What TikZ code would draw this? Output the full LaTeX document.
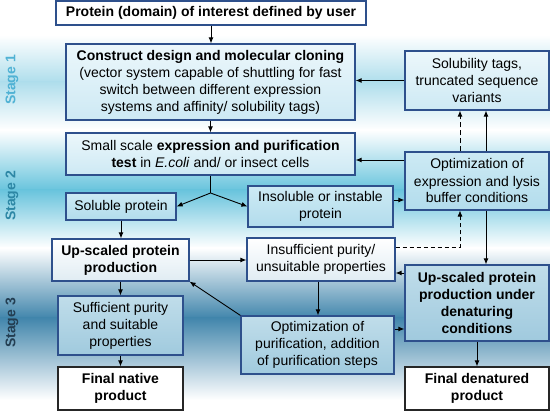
\documentclass[tikz,border=0pt]{standalone}
\usepackage{fontspec}
\setmainfont{Liberation Sans}
\usetikzlibrary{arrows.meta}
\definecolor{bandone}{RGB}{175,222,236}
\definecolor{bandtwo}{RGB}{105,196,221}
\definecolor{bandthree}{RGB}{66,134,172}
\definecolor{stageone}{RGB}{80,178,212}
\definecolor{stagetwo}{RGB}{45,135,165}
\definecolor{stagethree}{RGB}{35,62,82}
\definecolor{boxline}{RGB}{46,80,140}
\definecolor{paletop}{RGB}{236,247,251}
\definecolor{palebot}{RGB}{205,233,244}
\definecolor{skytop}{RGB}{205,234,244}
\definecolor{skybot}{RGB}{178,220,236}
\definecolor{steeltop}{RGB}{192,221,234}
\definecolor{steelbot}{RGB}{160,202,222}
\definecolor{whitebot}{RGB}{224,236,243}

\begin{document}
\begin{tikzpicture}[x=1pt,y=-1pt,line width=.9pt,font=\fontsize{14}{17}\selectfont,
  box/.style={draw=boxline,line width=1.2pt,align=center,inner sep=1pt},
  pale/.style={top color=paletop,bottom color=palebot},
  sky/.style={top color=skytop,bottom color=skybot},
  steel/.style={top color=steeltop,bottom color=steelbot},
  plain/.style={top color=white,bottom color=whitebot},
  final/.style={draw=black!85,fill=white},
  stagelabel/.style={rotate=90,font=\fontsize{14}{16}\selectfont\bfseries},
  arr/.style={-{Latex[length=6pt,width=5pt]}}]
\useasboundingbox (0,0) rectangle (550,411);
% background bands
\shade[top color=white,bottom color=bandone] (0,35) rectangle (550,82);
\shade[top color=bandone,bottom color=white] (0,82) rectangle (550,130);
\shade[top color=white,bottom color=bandtwo] (0,130) rectangle (550,190);
\shade[top color=bandtwo,bottom color=white] (0,190) rectangle (550,248);
\shade[top color=white,bottom color=bandthree] (0,248) rectangle (550,318);
\shade[top color=bandthree,bottom color=white] (0,318) rectangle (550,400);
\node[stagelabel,text=stageone] (stage1) at (12,80) {Stage 1};
\node[stagelabel,text=stagetwo] (stage2) at (12,196) {Stage 2};
\node[stagelabel,text=stagethree] (stage3) at (12,323) {Stage 3};
% boxes
\node[box,fill=white,minimum width=310,minimum height=24] (user) at (211,13)
  {\textbf{Protein (domain) of interest defined by user}};
\node[box,pale,minimum width=289,minimum height=76] (design) at (210.5,82)
  {\textbf{Construct design and molecular cloning}\\(vector system capable of shuttling for fast\\switch between different expression\\systems and affinity/ solubility tags)};
\node[box,pale,minimum width=144,minimum height=59] (tags) at (477,80.5)
  {Solubility tags,\\truncated sequence\\variants};
\node[box,pale,minimum width=289,minimum height=42] (test) at (210.5,154)
  {Small scale \textbf{expression and purification}\\\textbf{test} in \textit{E.coli} and/ or insect cells};
\node[box,sky,minimum width=110,minimum height=27] (soluble) at (121,206.5) {Soluble protein};
\node[box,sky,minimum width=145,minimum height=41] (insoluble) at (320.5,206.5)
  {Insoluble or instable\\protein};
\node[box,sky,minimum width=144,minimum height=58] (optexpr) at (477,181)
  {Optimization of\\expression and lysis\\buffer conditions};
\node[box,plain,minimum width=137,minimum height=42] (upscaled) at (120.5,260)
  {\textbf{Up-scaled protein}\\\textbf{production}};
\node[box,plain,minimum width=148,minimum height=43] (insufficient) at (321,259.5)
  {Insufficient purity/\\unsuitable properties};
\node[box,steel,minimum width=144,minimum height=76] (denat) at (477,303)
  {\textbf{Up-scaled protein}\\\textbf{production under}\\\textbf{denaturing}\\\textbf{conditions}};
\node[box,steel,minimum width=125,minimum height=59] (sufficient) at (120.5,325.5)
  {Sufficient purity\\and suitable\\properties};
\node[box,steel,minimum width=153,minimum height=58] (optpurif) at (317.5,345)
  {Optimization of\\purification, addition\\of purification steps};
\node[box,final,minimum width=125,minimum height=43] (native) at (120.5,388.5)
  {\textbf{Final native}\\\textbf{product}};
\node[box,final,minimum width=144,minimum height=43] (denatured) at (477,388.5)
  {\textbf{Final denatured}\\\textbf{product}};
\coordinate (split) at (210.5,193);
% connectors
\draw[arr] (user.south) -- (user.south |- design.north);
\draw[arr] (design.south) -- (test.north);
\draw (test.south) -- (split);
\draw[arr] (split) -- (soluble.east);
\draw[arr] (split) -- (insoluble.west);
\draw[arr] (soluble.south) -- (soluble.south |- upscaled.north);
\draw[arr] (upscaled.east) -- (upscaled.east -| insufficient.west);
\draw[arr] (upscaled.south) -- (sufficient.north);
\draw[arr] (sufficient.south) -- (native.north);
\draw[arr] (insoluble.east |- 0,200) -- (optexpr.west |- 0,200);
\draw[arr] (optexpr.west |- 0,160) -- (test.east |- 0,160);
\draw[arr] (tags.west) -- (tags.west -| design.east);
\draw[arr] (optexpr.north -| 486,0) -- (tags.south -| 486,0);
\draw[arr,dash pattern=on 5pt off 3pt] (optexpr.north -| 460,0) -- (tags.south -| 460,0);
\draw[arr] (optexpr.south -| 486,0) -- (denat.north -| 486,0);
\draw[arr,line width=.7pt,dash pattern=on 4pt off 3pt] (insufficient.east |- 0,247) -| (optexpr.south -| 460,0);
\draw[arr] (denat.west |- 0,273) -- (insufficient.east |- 0,273);
\draw[arr] (insufficient.south -| 318,0) -- (optpurif.north -| 318,0);
\draw[arr] (optpurif.east |- 0,329) -- (denat.west |- 0,329);
\draw[arr] (optpurif.north west) -- (upscaled.south east);
\draw[arr] (denat.south) -- (denatured.north);
\end{tikzpicture}
\end{document}
